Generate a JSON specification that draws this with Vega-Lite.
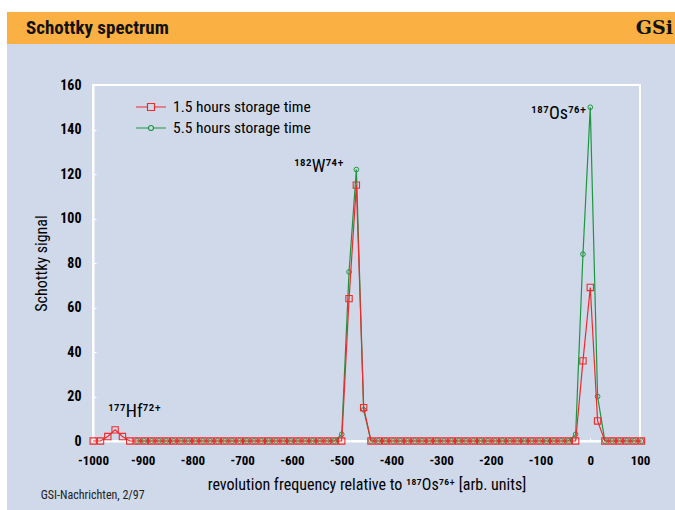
{
  "$schema": "https://vega.github.io/schema/vega-lite/v6.json",
  "padding": {"left": 0, "right": 0, "top": 0, "bottom": 0},
  "autosize": {"type": "pad"},
  "config": {
    "background": "#cfd9ea",
    "view": {"stroke": null},
    "font": "Roboto Condensed, Liberation Sans Narrow, DejaVu Sans Condensed, Roboto, sans-serif"
  },
  "datasets": {
    "spec": [
      {"f": -999.6, "r": 0}, {"f": -984.9, "r": 0}, {"f": -970.2, "r": 2}, {"f": -955.5, "r": 5},
      {"f": -940.8, "r": 2}, {"f": -926.1, "r": 0},
      {"f": -911.4, "r": 0, "g": 0}, {"f": -896.7, "r": 0, "g": 0}, {"f": -882, "r": 0, "g": 0},
      {"f": -867.3, "r": 0, "g": 0}, {"f": -852.6, "r": 0, "g": 0}, {"f": -837.9, "r": 0, "g": 0},
      {"f": -823.2, "r": 0, "g": 0}, {"f": -808.5, "r": 0, "g": 0}, {"f": -793.8, "r": 0, "g": 0},
      {"f": -779.1, "r": 0, "g": 0}, {"f": -764.4, "r": 0, "g": 0}, {"f": -749.7, "r": 0, "g": 0},
      {"f": -735, "r": 0, "g": 0}, {"f": -720.3, "r": 0, "g": 0}, {"f": -705.6, "r": 0, "g": 0},
      {"f": -690.9, "r": 0, "g": 0}, {"f": -676.2, "r": 0, "g": 0}, {"f": -661.5, "r": 0, "g": 0},
      {"f": -646.8, "r": 0, "g": 0}, {"f": -632.1, "r": 0, "g": 0}, {"f": -617.4, "r": 0, "g": 0},
      {"f": -602.7, "r": 0, "g": 0}, {"f": -588, "r": 0, "g": 0}, {"f": -573.3, "r": 0, "g": 0},
      {"f": -558.6, "r": 0, "g": 0}, {"f": -543.9, "r": 0, "g": 0}, {"f": -529.2, "r": 0, "g": 0},
      {"f": -514.5, "r": 0, "g": 0}, {"f": -499.8, "r": 0, "g": 3}, {"f": -485.1, "r": 64, "g": 76},
      {"f": -470.4, "r": 115, "g": 122}, {"f": -455.7, "r": 15, "g": 14}, {"f": -441, "r": 0, "g": 0},
      {"f": -426.3, "r": 0, "g": 0}, {"f": -411.6, "r": 0, "g": 0}, {"f": -396.9, "r": 0, "g": 0},
      {"f": -382.2, "r": 0, "g": 0}, {"f": -367.5, "r": 0, "g": 0}, {"f": -352.8, "r": 0, "g": 0},
      {"f": -338.1, "r": 0, "g": 0}, {"f": -323.4, "r": 0, "g": 0}, {"f": -308.7, "r": 0, "g": 0},
      {"f": -294, "r": 0, "g": 0}, {"f": -279.3, "r": 0, "g": 0}, {"f": -264.6, "r": 0, "g": 0},
      {"f": -249.9, "r": 0, "g": 0}, {"f": -235.2, "r": 0, "g": 0}, {"f": -220.5, "r": 0, "g": 0},
      {"f": -205.8, "r": 0, "g": 0}, {"f": -191.1, "r": 0, "g": 0}, {"f": -176.4, "r": 0, "g": 0},
      {"f": -161.7, "r": 0, "g": 0}, {"f": -147, "r": 0, "g": 0}, {"f": -132.3, "r": 0, "g": 0},
      {"f": -117.6, "r": 0, "g": 0}, {"f": -102.9, "r": 0, "g": 0}, {"f": -88.2, "r": 0, "g": 0},
      {"f": -73.5, "r": 0, "g": 0}, {"f": -58.8, "r": 0, "g": 0}, {"f": -44.1, "r": 0, "g": 0},
      {"f": -29.4, "r": 0, "g": 3}, {"f": -14.7, "r": 36, "g": 84}, {"f": 0, "r": 69, "g": 150},
      {"f": 14.7, "r": 9, "g": 20}, {"f": 29.4, "r": 0, "g": 0}, {"f": 44.1, "r": 0, "g": 0},
      {"f": 58.8, "r": 0, "g": 0}, {"f": 73.5, "r": 0, "g": 0}, {"f": 88.2, "r": 0, "g": 0},
      {"f": 102.9, "r": 0, "g": 0}
    ]
  },
  "spacing": 0,
  "hconcat": [
    {
      "width": 7, "height": 510,
      "view": {"fill": "white", "stroke": null},
      "data": {"values": [{}]},
      "mark": {"type": "text"},
      "encoding": {"text": {"value": ""}}
    },
    {
      "spacing": 33,
      "vconcat": [
        {
          "spacing": 0,
          "vconcat": [
            {
              "width": 668, "height": 12,
              "view": {"fill": "white", "stroke": null},
              "data": {"values": [{}]},
              "mark": {"type": "text"},
              "encoding": {"text": {"value": ""}}
            },
            {
              "width": 668, "height": 32,
              "view": {"fill": "#fab042", "stroke": null},
              "data": {"values": [{"label": "Schottky spectrum", "side": "left"}, {"label": "GSi", "side": "right"}]},
              "encoding": {
                "x": {"field": "side", "type": "nominal", "scale": {"type": "point", "padding": 0, "domain": ["left", "right"]}, "axis": null},
                "text": {"field": "label"}
              },
              "layer": [
                {
                  "transform": [{"filter": "datum.side == 'left'"}],
                  "mark": {"type": "text", "align": "left", "baseline": "middle", "dx": 19, "fontSize": 19, "fontWeight": "bold", "color": "#111111"}
                },
                {
                  "transform": [{"filter": "datum.side == 'right'"}],
                  "mark": {"type": "text", "align": "right", "baseline": "middle", "dx": -2, "fontSize": 19, "fontWeight": "bold", "font": "DejaVu Serif", "color": "#111111"}
                }
              ]
            }
          ]
        },
        {
          "spacing": 0,
          "hconcat": [
            {
              "width": 25, "height": 356,
              "view": {"stroke": null},
              "data": {"values": [{}]},
              "mark": {"type": "text"},
              "encoding": {"text": {"value": ""}}
            },
            {
              "width": 547, "height": 356,
              "view": {"stroke": "white", "strokeWidth": 2},
              "title": {"text": "GSI-Nachrichten, 2/97", "orient": "bottom", "anchor": "start", "frame": "bounds", "offset": -2, "dx": 7, "fontSize": 12, "fontWeight": "normal", "color": "#222222"},
              "layer": [
                {
                  "data": {"name": "spec"},
                  "transform": [{"filter": "isValid(datum.g)"}],
                  "mark": {"type": "line", "color": "#1e9640", "strokeWidth": 1.2, "clip": false},
                  "encoding": {
                    "x": {"field": "f", "type": "quantitative", "scale": {"domain": [-1000, 100], "nice": false, "zero": false},
                      "axis": {"values": [-1000, -900, -800, -700, -600, -500, -400, -300, -200, -100, 0, 100],
                        "labelExpr": "'' + datum.value",
                        "title": "revolution frequency relative to ¹⁸⁷Os⁷⁶⁺ [arb. units]",
                        "grid": false, "domainColor": "white", "domainWidth": 2, "tickColor": "white", "tickSize": -3,
                        "labelFontSize": 13, "labelFontWeight": "bold", "labelColor": "black", "labelPadding": 16, "labelFlush": false,
                        "titleFontSize": 16, "titleFontWeight": "normal", "titleColor": "black", "titlePadding": 9}},
                    "y": {"field": "g", "type": "quantitative", "scale": {"domain": [0, 160], "nice": false},
                      "axis": {"values": [0, 20, 40, 60, 80, 100, 120, 140, 160], "title": "Schottky signal",
                        "grid": false, "domainColor": "white", "domainWidth": 2, "tickColor": "white", "tickSize": -3,
                        "labelFontSize": 14, "labelFontWeight": "bold", "labelColor": "black", "labelPadding": 15,
                        "titleFontSize": 16, "titleFontWeight": "normal", "titleColor": "black", "titlePadding": 10}}
                  }
                },
                {
                  "data": {"name": "spec"},
                  "transform": [{"filter": "isValid(datum.g)"}],
                  "mark": {"type": "point", "shape": "circle", "filled": false, "color": "#1e9640", "size": 22, "strokeWidth": 1, "opacity": 1, "clip": false},
                  "encoding": {
                    "x": {"field": "f", "type": "quantitative"},
                    "y": {"field": "g", "type": "quantitative"}
                  }
                },
                {
                  "data": {"name": "spec"},
                  "mark": {"type": "line", "color": "#ee2b2b", "strokeWidth": 1.2, "clip": false},
                  "encoding": {
                    "x": {"field": "f", "type": "quantitative"},
                    "y": {"field": "r", "type": "quantitative"}
                  }
                },
                {
                  "data": {"name": "spec"},
                  "mark": {"type": "point", "shape": "square", "filled": false, "color": "#ee2b2b", "size": 40, "strokeWidth": 1.1, "opacity": 1, "clip": false},
                  "encoding": {
                    "x": {"field": "f", "type": "quantitative"},
                    "y": {"field": "r", "type": "quantitative"}
                  }
                },
                {
                  "data": {"values": [{"series": "1.5 hours storage time"}, {"series": "5.5 hours storage time"}]},
                  "transform": [{"filter": "datum.series == 'none'"}],
                  "mark": {"type": "point", "filled": false, "strokeWidth": 1.2},
                  "encoding": {
                    "color": {"field": "series", "type": "nominal",
                      "scale": {"domain": ["1.5 hours storage time", "5.5 hours storage time"], "range": ["#ee2b2b", "#1e9640"]},
                      "legend": {"title": null, "orient": "none", "legendX": 140, "legendY": 96, "symbolSize": 400, "rowPadding": 1, "labelLimit": 400,
                        "labelFontSize": 15.5, "labelColor": "black", "labelOffset": 11, "symbolStrokeWidth": 1.2, "symbolOpacity": 1}},
                    "shape": {"field": "series", "type": "nominal",
                      "scale": {"domain": ["1.5 hours storage time", "5.5 hours storage time"],
                        "range": ["M-1.5,0H-0.35M0.35,0H1.5M-0.35,-0.35H0.35V0.35H-0.35Z", "M-1.5,0H-0.25M0.25,0H1.5M0.25,0A0.25,0.25,0,1,1,-0.25,0A0.25,0.25,0,1,1,0.25,0Z"]},
                      "legend": {"title": null, "orient": "none", "legendX": 140, "legendY": 96, "symbolSize": 400, "rowPadding": 1, "labelLimit": 400,
                        "labelFontSize": 15.5, "labelColor": "black", "labelOffset": 11, "symbolStrokeWidth": 1.2, "symbolOpacity": 1}}
                  }
                },
                {
                  "data": {"values": [
                    {"f": -596, "v": 123, "label": "¹⁸²W⁷⁴⁺"},
                    {"f": -119, "v": 147, "label": "¹⁸⁷Os⁷⁶⁺"},
                    {"f": -970, "v": 13, "label": "¹⁷⁷Hf⁷²⁺"}
                  ]},
                  "mark": {"type": "text", "align": "left", "baseline": "middle", "fontSize": 18, "color": "black"},
                  "encoding": {
                    "x": {"field": "f", "type": "quantitative"},
                    "y": {"field": "v", "type": "quantitative"},
                    "text": {"field": "label"}
                  }
                }
              ]
            }
          ]
        }
      ]
    }
  ]
}
